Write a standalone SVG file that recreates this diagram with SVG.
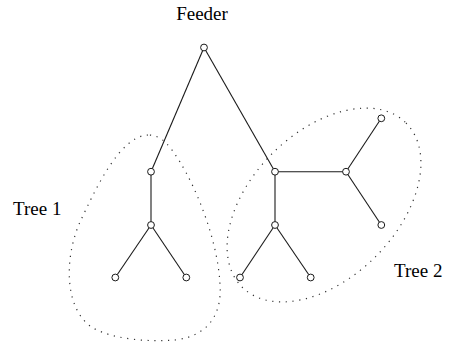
<svg xmlns="http://www.w3.org/2000/svg" width="454" height="348" viewBox="0 0 454 348">
  <style>
    .edge { stroke: #1a1a1a; stroke-width: 1.1; fill: none; }
    .node { fill: #ffffff; stroke: #1a1a1a; stroke-width: 1; }
    .region { fill: none; stroke: #333333; stroke-width: 1.2; stroke-dasharray: 1.2 5.6; }
    .label { font-family: "Liberation Serif", "Times New Roman", serif; font-size: 19px; fill: #000000; }
  </style>

  <!-- dotted outlines of the two subtrees -->
  <g id="regions">
    <path class="region" d="M148,135 C120,136 96,188 80,222 C64,258 64,310 93,328 C115,340 150,342 175,340 C210,336 222,312 220,285 C218,240 196,188 180,162 C170,146 162,135 148,135 Z"/>
    <ellipse class="region" cx="324" cy="205" rx="116" ry="73" transform="rotate(-45 324 205)"/>
  </g>

  <!-- connectors -->
  <g id="connectors">
    <line class="edge" x1="204" y1="47.5" x2="151" y2="171.7"/>
    <line class="edge" x1="204" y1="47.5" x2="275" y2="171.7"/>
    <line class="edge" x1="151" y1="171.7" x2="151" y2="225"/>
    <line class="edge" x1="151" y1="225" x2="115.3" y2="277.5"/>
    <line class="edge" x1="151" y1="225" x2="186.3" y2="277.5"/>
    <line class="edge" x1="275" y1="171.7" x2="346" y2="171.7"/>
    <line class="edge" x1="346" y1="171.7" x2="381.3" y2="118.3"/>
    <line class="edge" x1="346" y1="171.7" x2="381.3" y2="225"/>
    <line class="edge" x1="275" y1="171.7" x2="275" y2="225"/>
    <line class="edge" x1="275" y1="225" x2="240" y2="277.5"/>
    <line class="edge" x1="275" y1="225" x2="310.7" y2="277.5"/>
  </g>

  <!-- nodes -->
  <g id="feeder"><circle class="node" cx="204" cy="47.5" r="3.4"/></g>
  <g id="t1-a"><circle class="node" cx="151" cy="171.7" r="3.4"/></g>
  <g id="t1-b"><circle class="node" cx="151" cy="225" r="3.4"/></g>
  <g id="t1-leaf1"><circle class="node" cx="115.3" cy="277.5" r="3.4"/></g>
  <g id="t1-leaf2"><circle class="node" cx="186.3" cy="277.5" r="3.4"/></g>
  <g id="t2-a"><circle class="node" cx="275" cy="171.7" r="3.4"/></g>
  <g id="t2-b"><circle class="node" cx="346" cy="171.7" r="3.4"/></g>
  <g id="t2-leaf1"><circle class="node" cx="381.3" cy="118.3" r="3.4"/></g>
  <g id="t2-leaf2"><circle class="node" cx="381.3" cy="225" r="3.4"/></g>
  <g id="t2-c"><circle class="node" cx="275" cy="225" r="3.4"/></g>
  <g id="t2-leaf3"><circle class="node" cx="240" cy="277.5" r="3.4"/></g>
  <g id="t2-leaf4"><circle class="node" cx="310.7" cy="277.5" r="3.4"/></g>

  <!-- labels -->
  <g id="labels">
    <text class="label" x="202" y="20" text-anchor="middle">Feeder</text>
    <text class="label" x="13" y="215">Tree 1</text>
    <text class="label" x="394" y="277">Tree 2</text>
  </g>
</svg>
